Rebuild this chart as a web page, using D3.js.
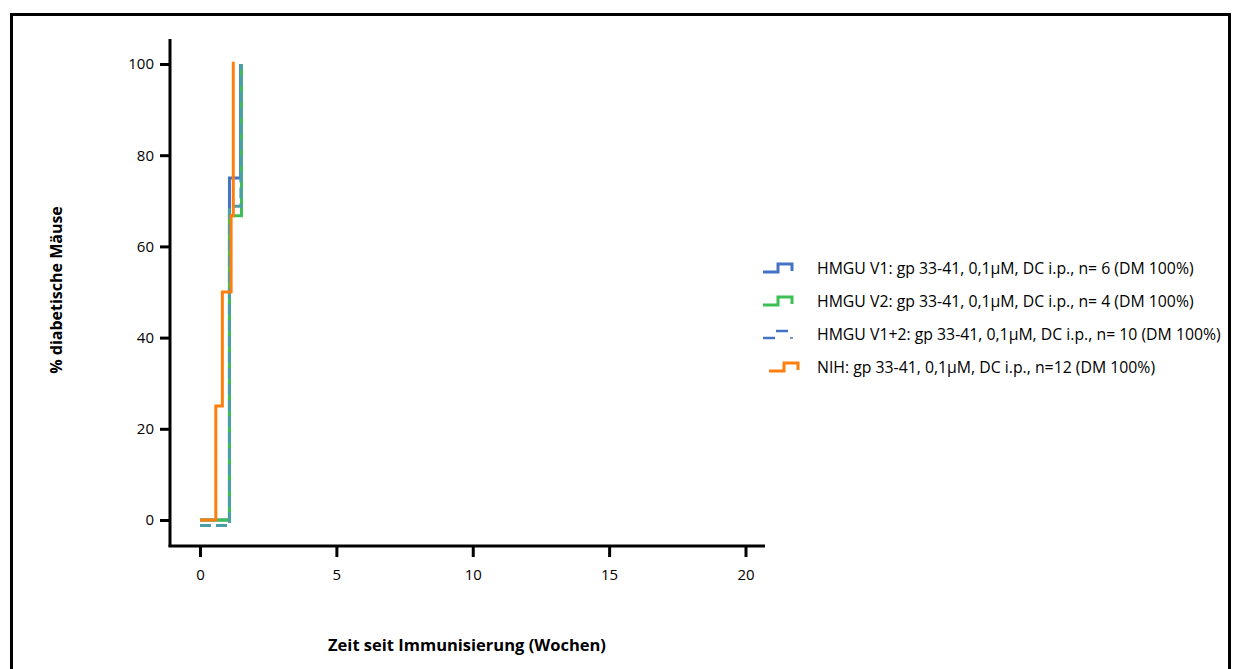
<!DOCTYPE html>
<html><head><meta charset="utf-8">
<script src="https://cdn.jsdelivr.net/npm/d3@7"></script>
<style>body{margin:0;background:#fff;} svg{display:block;font-family:"Open Sans",sans-serif;}</style>
</head><body>
<svg id="c" width="1234" height="669"></svg>
<script>
// ---- data ----
const xTicks = [0, 5, 10, 15, 20];
const yTicks = [0, 20, 40, 60, 80, 100];
const seriesNames = [
  "HMGU V1: gp 33-41, 0,1\u00b5M, DC i.p., n= 6 (DM 100%)",
  "HMGU V2: gp 33-41, 0,1\u00b5M, DC i.p., n= 4 (DM 100%)",
  "HMGU V1+2: gp 33-41, 0,1\u00b5M, DC i.p., n= 10 (DM 100%)",
  "NIH: gp 33-41, 0,1\u00b5M, DC i.p., n=12 (DM 100%)"
];
const v1Weeks = [0, 1.08, 1.49];
const v1Values = [0, 75, 100];
const v2Weeks = [0, 1.08, 1.52];
const v2Values = [0, 66.7, 100];
const v12Weeks = [0, 1.08, 1.5];
const v12Values = [-1.2, 68.8, 100];
const nihWeeks = [0, 0.58, 0.82, 1.14, 1.22];
const nihValues = [0, 25, 50, 66.7, 100.5];
const xLabel = "Zeit seit Immunisierung (Wochen)";
const yLabel = "% diabetische M\u00e4use";

// ---- drawing ----
const svg = d3.select("#c");
const x = d3.scaleLinear().domain([0, 20]).range([200, 745.5]);
const y = d3.scaleLinear().domain([0, 100]).range([520, 64]);

svg.append("rect").attr("x", 11.5).attr("y", 14.5).attr("width", 1218).attr("height", 670)
  .attr("fill", "none").attr("stroke", "#000").attr("stroke-width", 3);

// axes
const yAxis = d3.axisLeft(y).tickValues(yTicks).tickSize(10).tickPadding(6);
const gy = svg.append("g").attr("transform", "translate(170,0)").call(yAxis);
gy.select(".domain").remove();
gy.selectAll(".tick line").attr("stroke", "#000").attr("stroke-width", 3);
gy.selectAll(".tick text").attr("font-size", 15).attr("fill", "#000").attr("font-family", "Open Sans");
svg.append("line").attr("x1", 170).attr("x2", 170).attr("y1", 39).attr("y2", 546.5)
  .attr("stroke", "#000").attr("stroke-width", 3);

const xAxis = d3.axisBottom(x).tickValues(xTicks).tickSize(11).tickPadding(12);
const gx = svg.append("g").attr("transform", "translate(0,546)").call(xAxis);
gx.select(".domain").remove();
gx.selectAll(".tick line").attr("stroke", "#000").attr("stroke-width", 3);
gx.selectAll(".tick text").attr("font-size", 15).attr("fill", "#000").attr("font-family", "Open Sans");
svg.append("line").attr("x1", 168.5).attr("x2", 765).attr("y1", 546).attr("y2", 546)
  .attr("stroke", "#000").attr("stroke-width", 3);

// labels
svg.append("text").attr("x", 467).attr("y", 651).attr("text-anchor", "middle")
  .attr("font-weight", "bold").attr("font-size", 16.5).text(xLabel);
svg.append("text").attr("transform", "translate(62,290) rotate(-90)").attr("text-anchor", "middle")
  .attr("font-weight", "bold").attr("font-size", 16).text(yLabel);

// curves
const line = d3.line().x(d => x(d[0])).y(d => y(d[1])).curve(d3.curveStepAfter);
const zip = (a, b) => a.map((t, i) => [t, b[i]]);
const curves = [
  {w: v1Weeks, v: v1Values, color: "#4472C4", dash: null},
  {w: v2Weeks, v: v2Values, color: "#3CBF55", dash: null},
  {w: v12Weeks, v: v12Values, color: "#4A9EA8", dash: "11,5"},
  {w: nihWeeks, v: nihValues, color: "#FF7F0E", dash: null}
];
curves.forEach(c => {
  svg.append("path").attr("d", line(zip(c.w, c.v))).attr("fill", "none")
    .attr("stroke", c.color).attr("stroke-width", 3)
    .attr("stroke-dasharray", c.dash);
});

// legend
const legColors = ["#4472C4", "#3CBF55", "#4472C4", "#FF7F0E"];
const legY = [268, 301, 334, 367];
const legX = [763, 763, 763, 769];
legY.forEach((ly, i) => {
  const lx = legX[i];
  if (i === 2) {
    svg.append("line").attr("x1", lx).attr("x2", lx + 12).attr("y1", ly + 4).attr("y2", ly + 4)
      .attr("stroke", legColors[i]).attr("stroke-width", 2.5);
    svg.append("line").attr("x1", lx + 13).attr("x2", lx + 25).attr("y1", ly - 3).attr("y2", ly - 3)
      .attr("stroke", legColors[i]).attr("stroke-width", 2.5);
    svg.append("line").attr("x1", lx + 27).attr("x2", lx + 30).attr("y1", ly + 4).attr("y2", ly + 4)
      .attr("stroke", legColors[i]).attr("stroke-width", 1.5);
  } else {
    const pts = [[lx, ly + 4], [lx + 15, ly + 4], [lx + 15, ly - 4], [lx + 29, ly - 4], [lx + 29, ly + 3]];
    svg.append("path").attr("d", d3.line()(pts)).attr("fill", "none")
      .attr("stroke", legColors[i]).attr("stroke-width", 3);
  }
  svg.append("text").attr("x", 817).attr("y", ly + 5.5).attr("font-size", 15.8).attr("fill", "#000")
    .text(seriesNames[i]);
});
</script>
</body></html>
